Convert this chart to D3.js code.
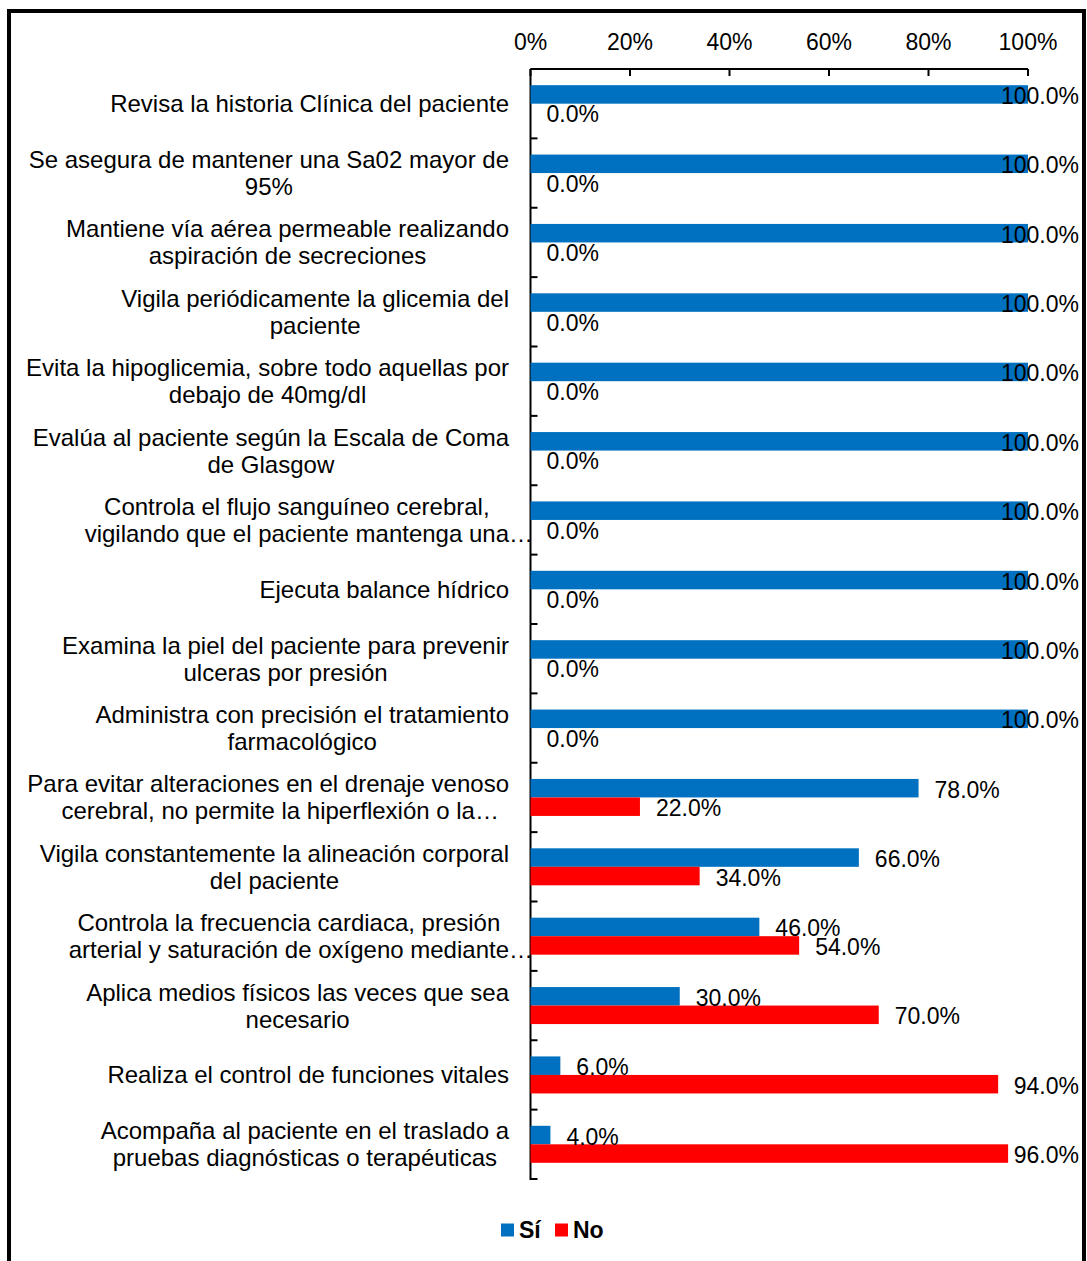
<!DOCTYPE html>
<html>
<head>
<meta charset="utf-8">
<script src="https://cdn.jsdelivr.net/npm/d3@7"></script>
<style>
  html, body { margin: 0; padding: 0; background: #fff; }
  svg text { font-family: "Liberation Sans", Arial, sans-serif; fill: #000; }
</style>
</head>
<body>
<svg id="chart" width="1087" height="1261"></svg>
<script>
// Category labels, already split into the lines shown on the axis
const categories = [
  ["Revisa la historia Clínica del paciente"],
  ["Se asegura de mantener una Sa02 mayor de", "95%"],
  ["Mantiene vía aérea permeable realizando", "aspiración de secreciones"],
  ["Vigila periódicamente la glicemia del", "paciente"],
  ["Evita la hipoglicemia, sobre todo aquellas por", "debajo de 40mg/dl"],
  ["Evalúa al paciente según la Escala de Coma", "de Glasgow"],
  ["Controla el flujo sanguíneo cerebral,", "vigilando que el paciente mantenga una…"],
  ["Ejecuta balance hídrico"],
  ["Examina la piel del paciente para prevenir", "ulceras por presión"],
  ["Administra con precisión el tratamiento", "farmacológico"],
  ["Para evitar alteraciones en el drenaje venoso", "cerebral, no permite la hiperflexión o la…"],
  ["Vigila constantemente la alineación corporal", "del paciente"],
  ["Controla la frecuencia cardiaca, presión", "arterial y saturación de oxígeno mediante…"],
  ["Aplica medios físicos las veces que sea", "necesario"],
  ["Realiza el control de funciones vitales"],
  ["Acompaña al paciente en el traslado a", "pruebas diagnósticas o terapéuticas"]
];

// Percentages per category
const siValues = [100, 100, 100, 100, 100, 100, 100, 100, 100, 100, 78, 66, 46, 30, 6, 4];
const noValues = [0, 0, 0, 0, 0, 0, 0, 0, 0, 0, 22, 34, 54, 70, 94, 96];

const seriesNames = ["Sí", "No"];
const seriesColors = ["#0070C0", "#FF0000"];
const xTicks = [0, 20, 40, 60, 80, 100];

const svg = d3.select("#chart");
const FONT = 23;
const CAT_FONT = 24;

// Outer frame
svg.append("rect")
  .attr("x", 9).attr("y", 11)
  .attr("width", 1075).attr("height", 1270)
  .attr("fill", "none").attr("stroke", "#000").attr("stroke-width", 4);

const x = d3.scaleLinear().domain([0, 100]).range([530.5, 1028]);
const idx = d3.range(categories.length);
const y = d3.scaleBand().domain(idx).range([69, 1179]).paddingInner(0).paddingOuter(0);
const barH = 18.5;
const sub = d3.scaleBand().domain(seriesNames).range([-barH, barH]);

// Top axis
const axisTop = svg.append("g").attr("transform", "translate(0,69)");
axisTop.append("line")
  .attr("x1", x(0)).attr("x2", x(100))
  .attr("stroke", "#000").attr("stroke-width", 2);
axisTop.selectAll("line.tick").data(xTicks).join("line")
  .attr("class", "tick")
  .attr("x1", d => x(d)).attr("x2", d => x(d))
  .attr("y1", 0).attr("y2", 7)
  .attr("stroke", "#000").attr("stroke-width", 2);
axisTop.selectAll("text").data(xTicks).join("text")
  .attr("x", d => x(d)).attr("y", -27)
  .attr("text-anchor", "middle").attr("dominant-baseline", "central")
  .style("font-size", FONT + "px")
  .text(d => d + "%");

// Left axis with ticks at the category boundaries
const axisLeft = svg.append("g");
axisLeft.append("line")
  .attr("x1", x(0)).attr("x2", x(0))
  .attr("y1", 69).attr("y2", 1180)
  .attr("stroke", "#000").attr("stroke-width", 2);
const bounds = idx.map(i => y(i)).concat([y(categories.length - 1) + y.bandwidth()]);
axisLeft.selectAll("line.tick").data(bounds).join("line")
  .attr("class", "tick")
  .attr("x1", x(0)).attr("x2", x(0) + 7)
  .attr("y1", d => d).attr("y2", d => d)
  .attr("stroke", "#000").attr("stroke-width", 2);

// Category labels: lines centred within a block whose right edge sits at 509
const labelRight = 509;
const lineGap = 27;
const catG = svg.append("g");
categories.forEach((lines, i) => {
  const cy = y(i) + y.bandwidth() / 2;
  const g = catG.append("g");
  const texts = lines.map((ln, j) => g.append("text")
    .attr("y", cy + (j - (lines.length - 1) / 2) * lineGap)
    .attr("dominant-baseline", "central")
    .style("font-size", CAT_FONT + "px")
    .text(ln));
  // width of each line, leaving out a trailing ellipsis
  const widths = lines.map((ln, j) => {
    const t = ln.endsWith("…") ? ln.slice(0, -1) : ln;
    const tmp = g.append("text").style("font-size", CAT_FONT + "px").text(t);
    const w = tmp.node().getComputedTextLength();
    tmp.remove();
    return w;
  });
  const maxW = d3.max(widths);
  const cx = labelRight - maxW / 2;
  texts.forEach((t, j) => t.attr("x", cx - widths[j] / 2));
});

// Bars
const rows = idx.map(i => ({ i, vals: [siValues[i], noValues[i]] }));
const rowG = svg.append("g").selectAll("g").data(rows).join("g")
  .attr("transform", d => `translate(0,${y(d.i) + y.bandwidth() / 2})`);

rowG.selectAll("rect").data(d => d.vals.map((v, k) => ({ v, k })))
  .join("rect")
  .attr("x", x(0))
  .attr("y", d => sub(seriesNames[d.k]))
  .attr("width", d => x(d.v) - x(0))
  .attr("height", sub.bandwidth())
  .attr("fill", d => seriesColors[d.k]);

// Value labels, kept inside the plot area on the right
const maxRight = 1079;
rowG.selectAll("text").data(d => d.vals.map((v, k) => ({ v, k })))
  .join("text")
  .attr("y", d => sub(seriesNames[d.k]) + sub.bandwidth() / 2 + 1.5)
  .attr("dominant-baseline", "central")
  .style("font-size", FONT + "px")
  .text(d => d.v.toFixed(1) + "%")
  .each(function (d) {
    const w = this.getComputedTextLength();
    const px = Math.min(x(d.v) + 16, maxRight - w);
    d3.select(this).attr("x", px);
  });

// Legend
const legend = svg.append("g").attr("transform", "translate(0,1230)");
const legendItems = [{ name: seriesNames[0], c: seriesColors[0], x: 501 }, { name: seriesNames[1], c: seriesColors[1], x: 555 }];
legendItems.forEach(it => {
  legend.append("rect").attr("x", it.x).attr("y", -6.5).attr("width", 13).attr("height", 13).attr("fill", it.c);
  legend.append("text").attr("x", it.x + 18).attr("y", 0)
    .attr("dominant-baseline", "central")
    .style("font-size", FONT + "px").style("font-weight", "bold")
    .text(it.name);
});
</script>
</body>
</html>
